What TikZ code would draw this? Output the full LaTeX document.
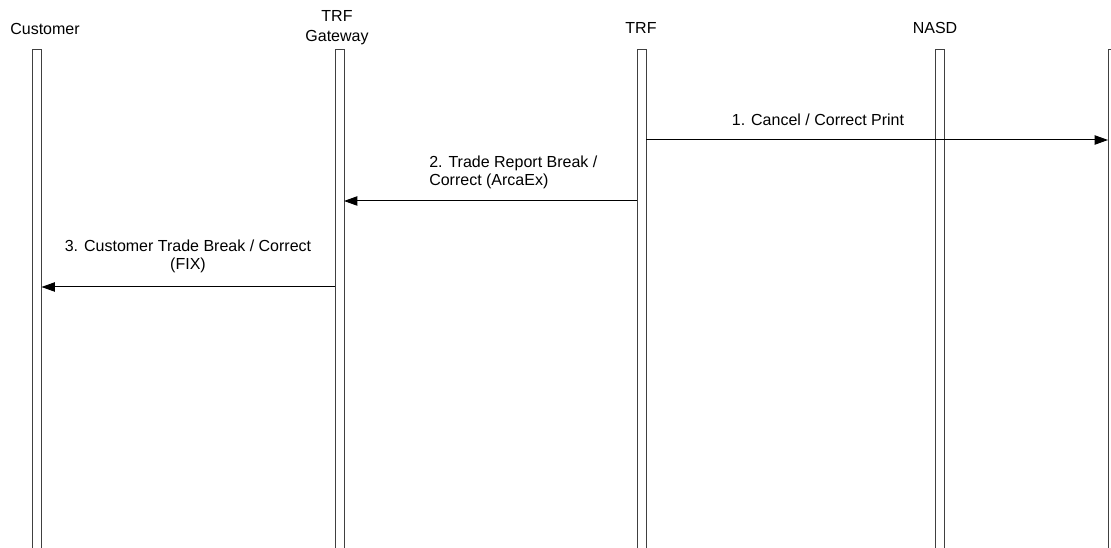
\documentclass[tikz,border=0pt]{standalone}
\usepackage{fontspec}
\setmainfont{Liberation Sans}
\usepackage{tikz}
\usetikzlibrary{arrows.meta}

\begin{document}
\begin{tikzpicture}[x=0.75pt,y=-0.75pt,font=\fontsize{12}{13.5}\selectfont]
\tikzstyle{arrow} = [line width=0.75pt,-{Triangle[length=10pt,width=7pt]}]
\tikzstyle{lifeline} = [draw=black!75,line width=0.75pt,minimum width=6.75pt,minimum height=375pt,inner sep=0,outer sep=0,anchor=north]
\tikzstyle{actor} = [inner sep=0,align=center]
\tikzstyle{msg} = [inner sep=0]

\useasboundingbox (0,0) rectangle (1111,548);

% lifelines
\node(customerbar)[lifeline] at (37,50) {};
\node(gatewaybar)[lifeline] at (339.5,50) {};
\node(trfbar)[lifeline] at (641.5,50) {};
\node(nasdbar)[lifeline] at (939.5,50) {};
\node(nextbar)[lifeline] at (1112.5,50) {};

% heads
\node(customer)[actor] at (45,29) {Customer};
\node(gateway)[actor,font=\fontsize{12}{15}\selectfont] at (337,28) {TRF\\Gateway};
\node(trf)[actor] at (641,28) {TRF};
\node(nasd)[actor] at (935,28) {NASD};

% messages
\coordinate (m1) at (0,140);
\coordinate (m2) at (0,201);
\coordinate (m3) at (0,287);

\draw [arrow] (trfbar.east |- m1) -- (nextbar.west |- m1);
\node(print)[msg] at (818,120) {1. Cancel / Correct Print};

\draw [arrow] (trfbar.west |- m2) -- (gatewaybar.east |- m2);
\node(report)[msg,align=left,anchor=west] at (429,172) {2. Trade Report Break /\\Correct (ArcaEx)};

\draw [arrow] (gatewaybar.west |- m3) -- (customerbar.east |- m3);
\node(fix)[msg,align=center] at (188,256) {3. Customer Trade Break / Correct\\(FIX)};
\end{tikzpicture}
\end{document}
